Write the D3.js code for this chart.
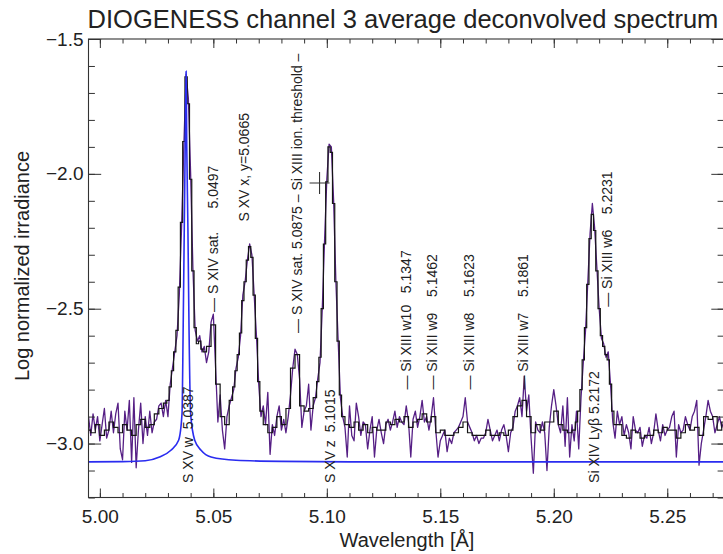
<!DOCTYPE html>
<html><head><meta charset="utf-8">
<script src="https://cdn.jsdelivr.net/npm/d3@7"></script>
<style>
body{margin:0;background:#fff;}
text{font-family:"Liberation Sans",Arial,Helvetica,sans-serif;fill:#222;}
</style></head><body><svg id="c" width="723" height="554"></svg>
<script>
// ---------- data ----------
const wavelength = [
4.995,4.996,4.997,4.998,4.999,
5.000,5.001,5.002,5.003,5.004,5.005,5.006,5.007,5.008,5.009,
5.010,5.011,5.012,5.013,5.014,5.015,5.016,5.017,5.018,5.019,
5.020,5.021,5.022,5.023,5.024,5.025,5.026,5.027,5.028,5.029,
5.030,5.031,5.032,5.033,5.034,5.035,5.036,5.037,5.038,5.039,
5.040,5.041,5.042,5.043,5.044,5.045,5.046,5.047,5.048,5.049,
5.050,5.051,5.052,5.053,5.054,5.055,5.056,5.057,5.058,5.059,
5.060,5.061,5.062,5.063,5.064,5.065,5.066,5.067,5.068,5.069,
5.070,5.071,5.072,5.073,5.074,5.075,5.076,5.077,5.078,5.079,
5.080,5.081,5.082,5.083,5.084,5.085,5.086,5.087,5.088,5.089,
5.090,5.091,5.092,5.093,5.094,5.095,5.096,5.097,5.098,5.099,
5.100,5.101,5.102,5.103,5.104,5.105,5.106,5.107,5.108,5.109,
5.110,5.111,5.112,5.113,5.114,5.115,5.116,5.117,5.118,5.119,
5.120,5.121,5.122,5.123,5.124,5.125,5.126,5.127,5.128,5.129,
5.130,5.131,5.132,5.133,5.134,5.135,5.136,5.137,5.138,5.139,
5.140,5.141,5.142,5.143,5.144,5.145,5.146,5.147,5.148,5.149,
5.150,5.151,5.152,5.153,5.154,5.155,5.156,5.157,5.158,5.159,
5.160,5.161,5.162,5.163,5.164,5.165,5.166,5.167,5.168,5.169,
5.170,5.171,5.172,5.173,5.174,5.175,5.176,5.177,5.178,5.179,
5.180,5.181,5.182,5.183,5.184,5.185,5.186,5.187,5.188,5.189,
5.190,5.191,5.192,5.193,5.194,5.195,5.196,5.197,5.198,5.199,
5.200,5.201,5.202,5.203,5.204,5.205,5.206,5.207,5.208,5.209,
5.210,5.211,5.212,5.213,5.214,5.215,5.216,5.217,5.218,5.219,
5.220,5.221,5.222,5.223,5.224,5.225,5.226,5.227,5.228,5.229,
5.230,5.231,5.232,5.233,5.234,5.235,5.236,5.237,5.238,5.239,
5.240,5.241,5.242,5.243,5.244,5.245,5.246,5.247,5.248,5.249,
5.250,5.251,5.252,5.253,5.254,5.255,5.256,5.257,5.258,5.259,
5.260,5.261,5.262,5.263,5.264,5.265,5.266,5.267,5.268,5.269,
5.270,5.271,5.272,5.273,5.274,5.275];

// deconvolved spectrum (purple), log normalized irradiance
const deconvolved = [
-2.90,-2.97,-2.89,-2.95,-2.90,
-2.99,-2.93,-2.87,-2.98,-2.95,-2.88,-2.96,-2.89,-2.85,-3.02,
-3.06,-2.88,-2.95,-2.84,-3.07,-2.83,-3.09,-2.95,-2.85,-3.00,
-2.90,-2.97,-2.88,-2.96,-2.92,-2.91,-2.86,-2.85,-2.90,-2.84,
-2.90,-2.78,-2.72,-2.66,-2.60,-2.45,-2.20,-1.90,-1.63,-1.72,
-2.00,-2.35,-2.58,-2.62,-2.60,-2.66,-2.64,-2.70,-2.66,-2.55,
-2.52,-2.72,-2.92,-2.82,-2.95,-3.02,-2.90,-2.86,-2.83,-2.80,
-2.72,-2.68,-2.60,-2.45,-2.40,-2.32,-2.26,-2.30,-2.45,-2.60,
-2.78,-2.90,-2.86,-2.93,-2.81,-3.04,-2.93,-2.97,-2.90,-2.86,
-2.95,-2.91,-2.96,-2.90,-2.82,-2.72,-2.65,-2.67,-2.76,-2.94,
-2.88,-2.86,-2.78,-2.95,-2.86,-2.83,-2.76,-2.70,-2.50,-2.25,
-2.02,-1.89,-1.90,-2.10,-2.40,-2.62,-2.83,-2.90,-2.94,-3.05,
-2.86,-2.97,-2.99,-2.85,-2.90,-2.97,-2.92,-2.93,-3.02,-2.95,
-2.90,-3.05,-2.95,-2.91,-2.96,-3.00,-2.93,-2.91,-2.95,-2.92,
-2.88,-2.94,-2.90,-2.92,-2.93,-2.86,-2.92,-3.05,-2.91,-2.88,
-2.94,-2.90,-2.84,-2.92,-2.90,-2.95,-2.90,-2.83,-2.95,-3.05,
-2.99,-2.97,-2.95,-3.03,-2.98,-3.00,-2.96,-2.95,-2.94,-2.92,
-2.90,-2.83,-2.92,-2.94,-2.96,-2.99,-2.97,-3.00,-2.98,-2.98,
-2.96,-2.91,-2.95,-2.99,-2.97,-2.95,-2.99,-2.95,-2.93,-2.97,
-3.03,-2.96,-2.94,-2.88,-2.86,-2.83,-2.90,-2.75,-2.88,-2.82,
-2.98,-3.11,-2.92,-2.95,-2.96,-2.92,-2.96,-3.10,-2.94,-2.86,
-2.80,-2.86,-2.93,-2.96,-2.86,-3.01,-2.83,-3.05,-2.93,-2.99,
-2.88,-3.02,-2.83,-2.70,-2.58,-2.40,-2.22,-2.11,-2.20,-2.35,
-2.50,-2.61,-2.63,-2.68,-2.66,-2.78,-2.92,-2.98,-2.88,-2.93,
-2.90,-2.97,-2.93,-2.96,-3.02,-2.90,-2.95,-2.96,-2.94,-3.01,
-2.97,-2.98,-2.94,-3.00,-2.96,-2.89,-2.95,-2.99,-2.93,-2.97,
-2.95,-2.94,-2.90,-2.88,-3.05,-2.93,-2.96,-2.95,-2.90,-2.93,
-2.95,-2.90,-2.88,-2.84,-3.08,-3.00,-2.95,-2.90,-2.84,-2.88,
-2.90,-2.96,-2.93,-2.90,-2.94,-2.92];

// binned spectrum (black histogram): finer bins across the lines
const binWavelength = [
4.995,4.997,4.999,5.001,5.003,5.005,5.007,5.009,5.011,5.013,
5.015,5.017,5.019,5.021,5.023,5.025,5.027,5.029,
5.030,5.031,5.032,5.033,5.034,5.035,5.036,5.037,5.038,5.039,
5.040,5.041,5.042,5.043,5.044,5.045,5.046,
5.048,5.050,5.052,5.054,5.056,
5.058,5.059,5.060,5.061,5.062,5.063,5.064,5.065,5.066,5.067,5.068,5.069,5.070,5.071,
5.073,5.075,5.077,5.079,5.081,5.083,5.085,5.087,5.089,5.091,5.093,
5.095,5.096,5.097,5.098,5.099,5.100,5.101,5.102,5.103,5.104,5.105,5.106,5.107,
5.109,5.111,5.113,5.115,5.117,5.119,5.121,5.123,5.125,5.127,
5.129,5.131,5.133,5.135,5.137,5.139,5.141,5.143,5.145,5.147,
5.149,5.151,5.153,5.155,5.157,5.159,5.161,5.163,5.165,5.167,
5.169,5.171,5.173,5.175,5.177,5.179,5.181,5.183,5.185,5.187,
5.189,5.191,5.193,5.195,5.197,5.199,5.201,5.203,5.205,5.207,5.209,
5.210,5.211,5.212,5.213,5.214,5.215,5.216,5.217,5.218,5.219,
5.220,5.221,5.222,5.223,5.224,5.225,5.226,5.227,
5.229,5.231,5.233,5.235,5.237,5.239,5.241,5.243,5.245,5.247,
5.249,5.251,5.253,5.255,5.257,5.259,5.261,5.263,5.265,5.267,
5.269,5.271,5.273,5.275];
const binned = [
-2.95,-2.96,-2.93,-2.97,-2.95,-2.92,-2.94,-2.96,-2.93,-2.95,
-2.97,-2.93,-2.91,-2.94,-2.93,-2.89,-2.87,-2.85,
-2.84,-2.79,-2.73,-2.66,-2.58,-2.42,-2.18,-1.88,-1.64,-1.74,
-2.02,-2.36,-2.57,-2.63,-2.62,-2.65,-2.66,
-2.64,-2.56,-2.78,-2.90,-2.93,
-2.84,-2.79,-2.73,-2.67,-2.59,-2.47,-2.40,-2.32,-2.27,-2.31,-2.45,-2.61,-2.77,-2.88,
-2.93,-2.96,-2.94,-2.90,-2.93,-2.87,-2.72,-2.67,-2.86,-2.88,-2.87,
-2.83,-2.77,-2.68,-2.50,-2.26,-2.03,-1.90,-1.92,-2.11,-2.40,-2.62,-2.82,-2.90,
-2.93,-2.94,-2.92,-2.95,-2.93,-2.96,-2.94,-2.95,-2.95,-2.92,
-2.93,-2.91,-2.92,-2.90,-2.94,-2.92,-2.91,-2.89,-2.92,-2.90,
-2.96,-2.95,-2.97,-2.97,-2.96,-2.94,-2.92,-2.96,-2.97,-2.97,
-2.97,-2.95,-2.97,-2.97,-2.96,-2.97,-2.95,-2.90,-2.86,-2.84,
-2.90,-2.96,-2.93,-2.95,-2.92,-2.92,-2.88,-2.93,-2.95,-2.96,-2.95,
-2.92,-2.88,-2.80,-2.69,-2.57,-2.41,-2.24,-2.15,-2.21,-2.36,
-2.50,-2.60,-2.64,-2.67,-2.69,-2.78,-2.88,-2.93,
-2.93,-2.97,-2.98,-2.95,-2.96,-2.98,-2.97,-2.97,-2.95,-2.96,
-2.94,-2.95,-2.95,-2.98,-2.96,-2.93,-2.95,-2.94,-2.97,-2.90,
-2.91,-2.90,-2.95,-2.92];

// S XV w model profile (blue)
const modelWavelength = [4.995,5.010,5.020,5.0263,5.0313,5.0347,5.0362,5.0367,5.0372,5.0376,5.0380,
  5.0383,5.0388,5.0393,5.0400,5.0418,5.0446,5.0490,5.060,5.080,5.120,5.275];
const modelValues = [-3.068,-3.067,-3.064,-3.050,-3.025,-2.988,-2.89,-2.58,-2.20,-1.90,-1.62,
  -1.90,-2.20,-2.58,-2.89,-2.988,-3.025,-3.050,-3.062,-3.066,-3.068,-3.068];

// marker "+"
const markerWave = [5.0968];
const markerValue = [-2.034];

// line identifications
const annText = [
  "S XV w\u00a0\u00a05.0387",
  "\u2014 S XIV sat.\u00a0\u00a0\u00a0\u00a0\u00a0\u00a05.0497",
  "S XV x, y=5.0665",
  "\u2014 S XIV sat. 5.0875 \u2013 Si XIII ion. threshold \u2013",
  "S XV z\u00a0\u00a05.1015",
  "\u2014 Si XIII w10\u00a0\u00a0\u00a05.1347",
  "\u2014 Si XIII w9\u00a0\u00a0\u00a0\u00a05.1462",
  "\u2014 Si XIII w8\u00a0\u00a0\u00a0\u00a05.1623",
  "\u2014 Si XIII w7\u00a0\u00a0\u00a0\u00a05.1861",
  "Si XIV Ly\u03b2 5.2172",
  "\u2014 Si XIII w6\u00a0\u00a0\u00a0\u00a05.2231"];
const annWave  = [5.0388, 5.0497, 5.0637, 5.0871, 5.1015, 5.1350, 5.1463, 5.1625, 5.1867, 5.2176, 5.2236];
const annStart = [-3.146, -2.512, -2.177, -2.590, -3.146, -2.800, -2.800, -2.800, -2.800, -3.146, -2.493];

const xMajor = [5.00, 5.05, 5.10, 5.15, 5.20, 5.25];
const xMinor = [5.00,5.01,5.02,5.03,5.04,5.05,5.06,5.07,5.08,5.09,5.10,5.11,5.12,5.13,5.14,5.15,5.16,5.17,5.18,5.19,5.20,5.21,5.22,5.23,5.24,5.25,5.26,5.27];
const yMajor = [-1.5, -2.0, -2.5, -3.0];
const yMinor = [-1.5,-1.6,-1.7,-1.8,-1.9,-2.0,-2.1,-2.2,-2.3,-2.4,-2.5,-2.6,-2.7,-2.8,-2.9,-3.0,-3.1,-3.2];

const titleText = "DIOGENESS channel 3 average deconvolved spectrum";
const xLabel = "Wavelength [\u00c5]";
const yLabel = "Log normalized irradiance";

// ---------- layout ----------
const L = 88.5, R = 724, T = 39, B = 497.5;
const svg = d3.select("#c");
const x = d3.scaleLinear().domain([4.995, 5.275]).range([L, R]);
const y = d3.scaleLinear().domain([-3.2, -1.5]).range([B, T]);

svg.append("defs").append("clipPath").attr("id","clip")
  .append("rect").attr("x",L).attr("y",T).attr("width",R-L).attr("height",B-T);

const plot = svg.append("g").attr("clip-path","url(#clip)");

const purpleData = wavelength.map((w,i)=>[w, deconvolved[i]]);
const blackData = binWavelength.map((w,i)=>[w, binned[i]]);
const blueData = modelWavelength.map((w,i)=>[w, modelValues[i]]);

plot.append("path").datum(purpleData)
  .attr("d", d3.line().x(d=>x(d[0])).y(d=>y(d[1])))
  .attr("fill","none").attr("stroke","#561f85").attr("stroke-width",1.3).attr("stroke-linejoin","round");

plot.append("path").datum(blackData)
  .attr("d", d3.line().x(d=>x(d[0])).y(d=>y(d[1])).curve(d3.curveStep))
  .attr("fill","none").attr("stroke","#151515").attr("stroke-width",1.2);

plot.append("path").datum(blueData)
  .attr("d", d3.line().x(d=>x(d[0])).y(d=>y(d[1])).curve(d3.curveMonotoneX))
  .attr("fill","none").attr("stroke","#2a2cf0").attr("stroke-width",1.6);

// marker
markerWave.forEach((w,i)=>{
  const cx = x(w), cy = y(markerValue[i]);
  svg.append("path").attr("d",`M${cx-10},${cy}H${cx+10}M${cx},${cy-11}V${cy+11}`)
    .attr("stroke","#333").attr("stroke-width",1.1).attr("fill","none");
});

// annotations
annText.forEach((t,i)=>{
  svg.append("text")
    .attr("transform",`translate(${x(annWave[i])},${y(annStart[i])}) rotate(-90)`)
    .attr("dy","0.35em").attr("font-size",14).attr("fill","#222")
    .text(t);
});

// axes
const axisColor = "#333";
function styleAxis(g){
  g.select(".domain").remove();
  g.selectAll(".tick line").attr("stroke",axisColor).attr("stroke-width",1);
  g.selectAll("text").attr("font-size",19).attr("fill","#222")
    .style("font-family",'"Liberation Sans",Arial,sans-serif');
}
const fx = d3.format(".2f"), fy = d3.format(".1f");
svg.append("g").attr("transform",`translate(0,${B})`)
  .call(d3.axisBottom(x).tickValues(xMinor).tickSize(-4.5).tickFormat("")).call(styleAxis);
svg.append("g").attr("transform",`translate(0,${B})`)
  .call(d3.axisBottom(x).tickValues(xMajor).tickSize(-9).tickPadding(12).tickFormat(fx)).call(styleAxis);
svg.append("g").attr("transform",`translate(0,${T})`)
  .call(d3.axisTop(x).tickValues(xMinor).tickSize(-4.5).tickFormat("")).call(styleAxis);
svg.append("g").attr("transform",`translate(0,${T})`)
  .call(d3.axisTop(x).tickValues(xMajor).tickSize(-9).tickFormat("")).call(styleAxis);
svg.append("g").attr("transform",`translate(${L},0)`)
  .call(d3.axisLeft(y).tickValues(yMinor).tickSize(-6.4).tickFormat("")).call(styleAxis);
svg.append("g").attr("transform",`translate(${L},0)`)
  .call(d3.axisLeft(y).tickValues(yMajor).tickSize(-12.7).tickPadding(5).tickFormat(fy)).call(styleAxis);
svg.append("g").attr("transform",`translate(${R},0)`)
  .call(d3.axisRight(y).tickValues(yMinor).tickSize(-6.4).tickFormat("")).call(styleAxis);
svg.append("g").attr("transform",`translate(${R},0)`)
  .call(d3.axisRight(y).tickValues(yMajor).tickSize(-12.7).tickFormat("")).call(styleAxis);

svg.append("rect").attr("x",L).attr("y",T).attr("width",R-L).attr("height",B-T)
  .attr("fill","none").attr("stroke",axisColor).attr("stroke-width",1.1);

// titles
svg.append("text").attr("x",403).attr("y",28).attr("text-anchor","middle")
  .attr("font-size",25.5).attr("fill","#111").text(titleText);
svg.append("text").attr("x",407).attr("y",547).attr("text-anchor","middle")
  .attr("font-size",20).text(xLabel);
svg.append("text").attr("transform","translate(29,266) rotate(-90)").attr("text-anchor","middle")
  .attr("font-size",20).text(yLabel);
</script></body></html>
